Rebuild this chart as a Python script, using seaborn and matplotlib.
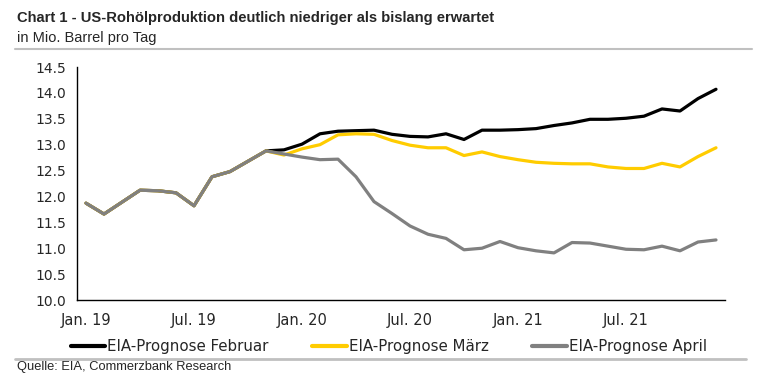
import numpy as np
import pandas as pd
import matplotlib
matplotlib.use("Agg")
import matplotlib.pyplot as plt
import seaborn as sns
from matplotlib.lines import Line2D

# monthly values, Jan 19 .. Dec 21 (mn barrels per day)
history = [11.87, 11.66, 11.89, 12.12, 12.11, 12.07, 11.82, 12.38, 12.48, 12.68, 12.88]
prognose_feb = [12.90, 13.01, 13.21, 13.26, 13.27, 13.28, 13.20, 13.16, 13.15, 13.21, 13.10, 13.28,
                13.28, 13.29, 13.31, 13.37, 13.42, 13.49, 13.49, 13.51, 13.55, 13.69, 13.65, 13.89, 14.07]
prognose_mar = [12.80, 12.92, 13.00, 13.19, 13.21, 13.20, 13.08, 12.99, 12.94, 12.94, 12.79, 12.86,
                12.77, 12.71, 12.66, 12.64, 12.63, 12.63, 12.57, 12.54, 12.54, 12.64, 12.57, 12.77, 12.94]
prognose_apr = [12.82, 12.76, 12.71, 12.72, 12.38, 11.90, 11.67, 11.43, 11.27, 11.19, 10.97, 11.00,
                11.13, 11.01, 10.95, 10.91, 11.11, 11.10, 11.04, 10.98, 10.97, 11.04, 10.95, 11.12, 11.16]
series_names = ["EIA-Prognose Februar", "EIA-Prognose März", "EIA-Prognose April"]
tick_labels = ["Jan. 19", "Jul. 19", "Jan. 20", "Jul. 20", "Jan. 21", "Jul. 21"]
colors = ["#000000", "#FFCC00", "#808080"]

frames = []
for name, vals in zip(series_names, [prognose_feb, prognose_mar, prognose_apr]):
    full = history + vals
    frames.append(pd.DataFrame({"month": np.arange(len(full)), "value": full, "series": name}))
df = pd.concat(frames, ignore_index=True)
n_months = len(history) + len(prognose_feb)

sns.set_style("white")
plt.rcParams["font.family"] = ["DejaVu Sans"]

fig = plt.figure(figsize=(7.58, 3.84), dpi=100)
ax = fig.add_axes([77 / 758, 1 - 300 / 384, (725 - 77) / 758, (300 - 67) / 384])

sns.lineplot(data=df, x="month", y="value", hue="series", hue_order=series_names,
             palette=colors, linewidth=2.3, ax=ax, legend=False)

ax.set_xlim(-0.5, n_months - 0.5)
ax.set_ylim(10, 14.5)
ax.set_yticks(np.arange(10, 14.51, 0.5))
ax.set_yticklabels([f"{v:.1f}" for v in np.arange(10, 14.51, 0.5)], fontsize=10)
ax.set_xticks(np.arange(0, n_months, 6))
ax.set_xticklabels(tick_labels, fontsize=10.5)
ax.set_xticks(np.arange(-0.5, n_months, 6), minor=True)
ax.tick_params(axis="x", which="major", length=0, pad=9)
ax.tick_params(axis="x", which="minor", length=5, width=1, color="black", direction="out")
ax.tick_params(axis="y", length=5, width=1, color="black", direction="out", pad=3)
ax.set_xlabel("")
ax.set_ylabel("")
for s in ["top", "right"]:
    ax.spines[s].set_visible(False)
for s in ["left", "bottom"]:
    ax.spines[s].set_color("black")
    ax.spines[s].set_linewidth(1)

handles = [Line2D([0], [0], color=c, lw=3) for c in colors]
fig.legend(handles, series_names, loc="center", bbox_to_anchor=(0.513, 1 - 347 / 384),
           ncol=3, frameon=False, fontsize=10.8, handlelength=2.3, handletextpad=0.15,
           columnspacing=2.9)

fig.text(17 / 758, 1 - 18 / 384, "Chart 1 - US-Rohölproduktion deutlich niedriger als bislang erwartet",
         fontsize=10.6, fontweight="bold", family="Liberation Sans", va="center")
fig.text(17 / 758, 1 - 38 / 384, "in Mio. Barrel pro Tag", fontsize=10.5,
         family="Liberation Sans", va="center")
fig.text(17 / 758, 1 - 367 / 384, "Quelle: EIA, Commerzbank Research", fontsize=9.3,
         family="Liberation Sans", va="center")
fig.add_artist(Line2D([15 / 758, 752 / 758], [1 - 49 / 384] * 2, color="#c0c0c0", lw=1.5))
fig.add_artist(Line2D([15 / 758, 746 / 758], [1 - 359 / 384] * 2, color="#c0c0c0", lw=2))

fig.savefig("out.png", dpi=100)
